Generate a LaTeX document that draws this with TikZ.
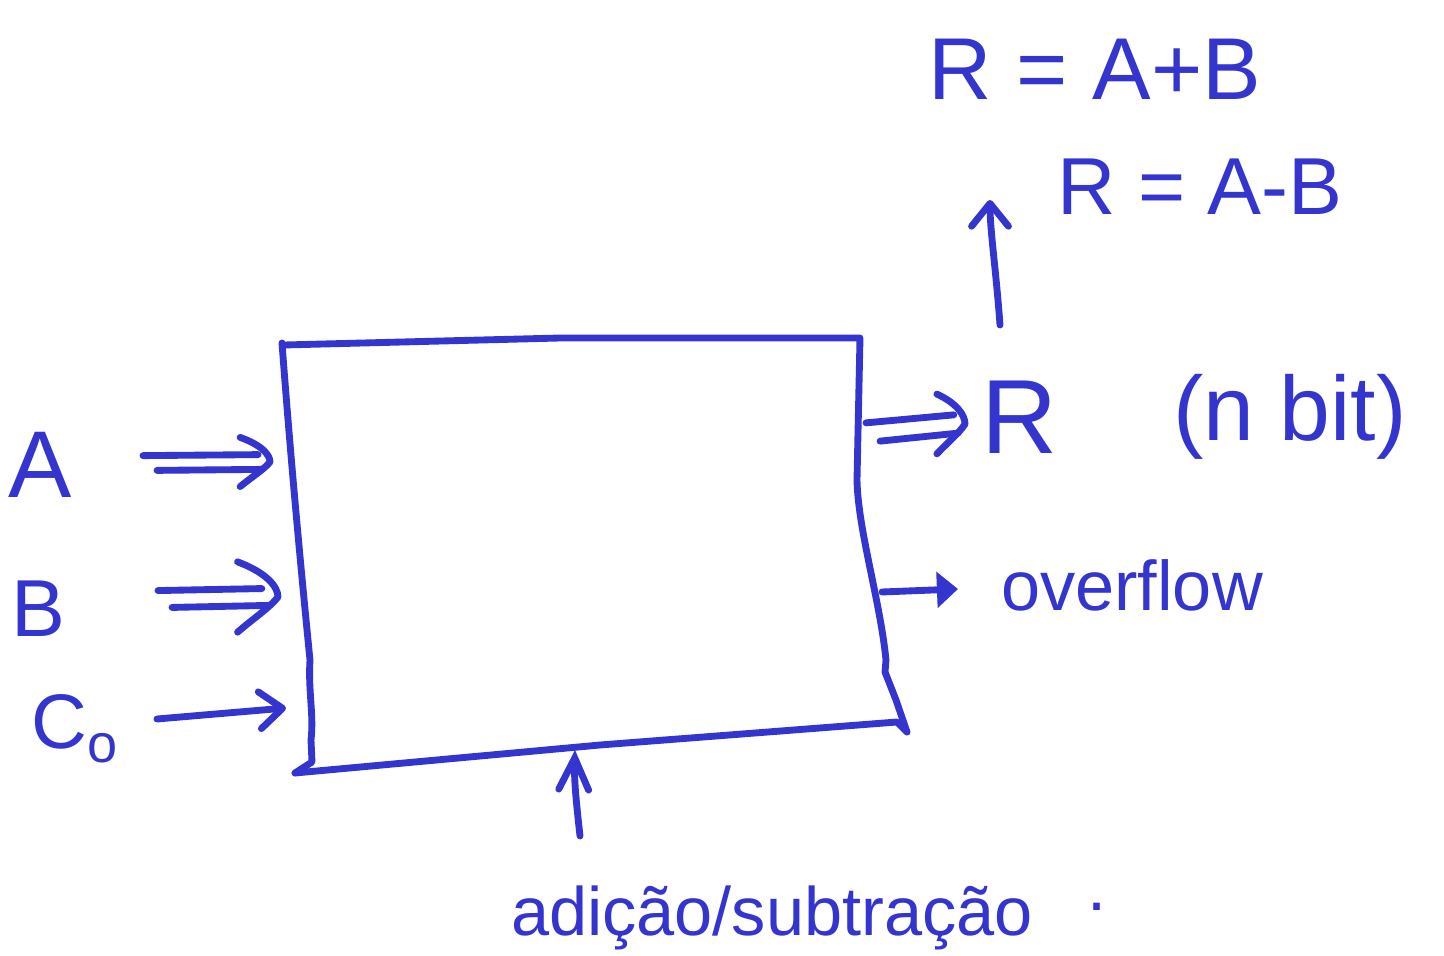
\documentclass[tikz,border=0pt]{standalone}
\usepackage{fontspec}
\setmainfont{Liberation Sans}
\usetikzlibrary{arrows.meta}
\definecolor{ink}{RGB}{52,52,206}
% double arrow: #1 start, #2 tip, #3 half gap, #4 head length, #5 head half width
\newcommand\dblarr[5]{%
  \draw[pen] ([yshift=#3]#1) -- ([xshift=-0.4*#4,yshift=#3]#2);
  \draw[pen] ([xshift=8pt,yshift=-#3]#1) -- ([xshift=-0.25*#4,yshift=-#3]#2);
  \draw[pen] ([xshift=-#4,yshift=#5]#2) .. controls ([xshift=-0.3*#4,yshift=0.7*#5]#2) and ([xshift=0pt,yshift=0.3*#5]#2) .. (#2)
     .. controls ([xshift=-0.2*#4,yshift=-0.3*#5]#2) and ([xshift=-0.6*#4,yshift=-0.6*#5]#2) .. ([xshift=-#4,yshift=-#5]#2);
}
\begin{document}
\begin{tikzpicture}[x=0.02cm,y=-0.02cm,
  pen/.style={draw=ink,line width=3.9pt,line cap=round,line join=round},
  sgl/.style={pen,-{Straight Barb[length=13pt,width=21pt,line cap=round,line join=round]}},
  lbl/.style={text=ink,inner sep=0pt,anchor=base}]
\useasboundingbox (0,0) rectangle (1444,956);
% box
\draw[pen] (284,345) -- (560,338) -- (860,338)
  -- (857,480) .. controls (858,530) and (880,600) .. (886,660)
  -- (885,672) -- (896,700) -- (907,732);
\draw[pen] (907,732) -- (897,722) -- (600,745) -- (295,773);
\draw[pen] (282,343) .. controls (290,450) and (300,560) .. (310,660)
  .. controls (308,690) and (314,715) .. (311,740) -- (312,762) -- (295,773);
% labels
\node[lbl,font=\fontsize{54}{54}\selectfont] (A) at (40,497) {A};
\node[lbl,font=\fontsize{46}{46}\selectfont] (B) at (38,636) {B};
\node[lbl,font=\fontsize{44}{44}\selectfont] (C) at (75,748) {C\textsubscript{o}};
\node[lbl,font=\fontsize{60}{60}\selectfont] (R) at (1020,453) {R};
\node[lbl,font=\fontsize{52}{52}\selectfont] (nb) at (1290,440) {(n bit)};
\node[lbl,font=\fontsize{40}{40}\selectfont] (ov) at (1132,610) {overflow};
\node[lbl,font=\fontsize{50}{50}\selectfont] (sum) at (1095,100) {R = A+B};
\node[lbl,font=\fontsize{46}{46}\selectfont] (dif) at (1200,215) {R = A-B};
\node[lbl,font=\fontsize{39}{39}\selectfont] (op) at (772,935) {adição/subtração};
\node[lbl,font=\fontsize{39}{39}\selectfont] (dot) at (1097,910) {.};
% connector ends
\coordinate (aS) at (143,463); \coordinate (aE) at (270,462);
\coordinate (bS) at (158,599); \coordinate (bE) at (278,597);
\coordinate (cS) at (157,719); \coordinate (cE) at (286,708);
\coordinate (rS) at (866,432); \coordinate (rE) at (965,424);
\coordinate (oS) at (882,592); \coordinate (oE) at (958,589);
\coordinate (uS) at (1000,325); \coordinate (uE) at (990,200);
\coordinate (pS) at (580,836); \coordinate (pE) at (575,750);
% connectors
\dblarr{aS}{aE}{4.2pt}{17pt}{14pt}
\dblarr{bS}{bE}{4.8pt}{23pt}{20pt}
\dblarr{rS}{rE}{5.2pt}{16pt}{17pt}
\draw[sgl] (cS) -- (cE);
\draw[pen,-{Triangle[length=12pt,width=20pt]}] (oS) -- (oE);
\draw[sgl] (uS) .. controls (996,270) and (990,230) .. (uE);
\draw[sgl,-{Straight Barb[length=18pt,width=17pt,line cap=round]}] (pS) .. controls (576,800) and (574,780) .. (pE);
\end{tikzpicture}
\end{document}
